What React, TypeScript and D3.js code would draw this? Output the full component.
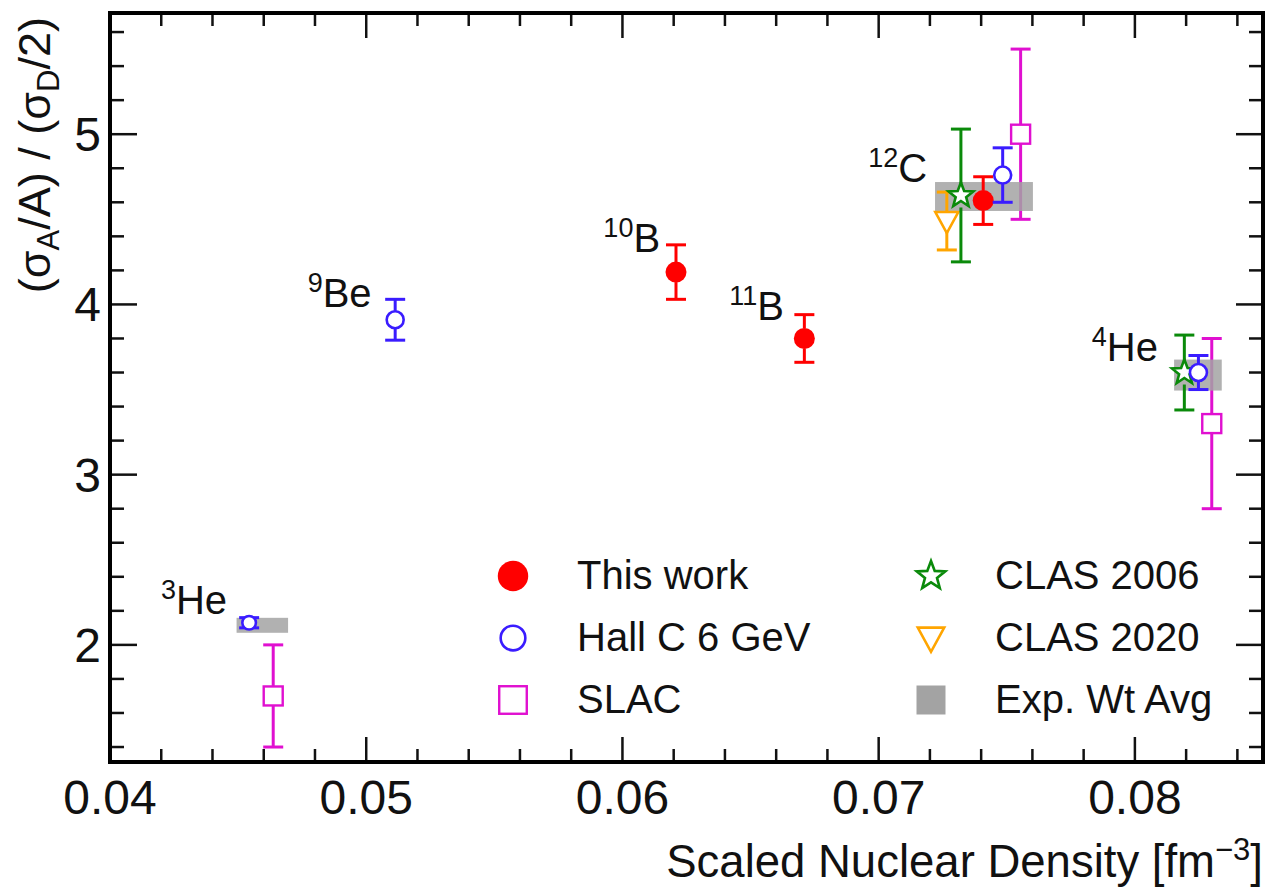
import React from 'react';
import * as d3 from 'd3';

const W = 1277;
const H = 887;
const frame = { left: 110, right: 1263, top: 13, bottom: 762 };
const FONT = '"Liberation Sans", Arial, Helvetica, sans-serif';

// data: density, ratio, error
const thisWork = [
  { x: 0.06209, y: 4.19, e: 0.16 },
  { x: 0.0671, y: 3.8, e: 0.14 },
  { x: 0.07408, y: 4.61, e: 0.14 },
];
const hallC = [
  { x: 0.04543, y: 2.13, e: 0.03 },
  { x: 0.05113, y: 3.91, e: 0.12 },
  { x: 0.07484, y: 4.76, e: 0.16 },
  { x: 0.08248, y: 3.6, e: 0.1 },
];
const slac = [
  { x: 0.04637, y: 1.7, e: 0.3 },
  { x: 0.07554, y: 5.0, e: 0.5 },
  { x: 0.083, y: 3.3, e: 0.5 },
];
const clas2006 = [
  { x: 0.07321, y: 4.64, e: 0.39 },
  { x: 0.08193, y: 3.6, e: 0.22 },
];
const clas2020 = [{ x: 0.07266, y: 4.49, e: 0.17 }];
const expAvg = [
  { x0: 0.04494, x1: 0.04695, y: 2.115, e: 0.044 },
  { x0: 0.0722, x1: 0.07602, y: 4.634, e: 0.085 },
  { x0: 0.08153, x1: 0.08339, y: 3.585, e: 0.091 },
];
const nuclei = [
  { mass: '3', name: 'He', x: 0.04457, y: 2.18 },
  { mass: '9', name: 'Be', x: 0.05021, y: 3.984 },
  { mass: '10', name: 'B', x: 0.06147, y: 4.308 },
  { mass: '11', name: 'B', x: 0.0663, y: 3.906 },
  { mass: '12', name: 'C', x: 0.07189, y: 4.72 },
  { mass: '4', name: 'He', x: 0.0809, y: 3.67 },
];
const xMajor = [0.04, 0.05, 0.06, 0.07, 0.08];
const yMajor = [2, 3, 4, 5];
const legendLeft = ['This work', 'Hall C 6 GeV', 'SLAC'];
const legendRight = ['CLAS 2006', 'CLAS 2020', 'Exp. Wt Avg'];

const RED = '#ff0000';
const BLUE = '#3a1cff';
const MAGENTA = '#e010d0';
const GREEN = '#0a8a0a';
const ORANGE = '#ffa500';
const GRAY = '#a3a3a3';

const xScale = d3.scaleLinear().domain([0.04, 0.085]).range([frame.left, frame.right]);
const yScale = d3.scaleLinear().domain([1.312, 5.712]).range([frame.bottom, frame.top]);

function starPath(R: number, r: number) {
  const pts: [number, number][] = [];
  for (let i = 0; i < 10; i++) {
    const a = -Math.PI / 2 + (i * Math.PI) / 5;
    const rr = i % 2 === 0 ? R : r;
    pts.push([rr * Math.cos(a), rr * Math.sin(a)]);
  }
  return d3.line()(pts) + 'Z';
}

function marker(kind: string, s: number) {
  // s = scale factor
  if (kind === 'dot') return <circle r={10.5 * s} fill={RED} />;
  if (kind === 'circle')
    return <circle r={8.5 * s} fill="white" stroke={BLUE} strokeWidth={2.6} />;
  if (kind === 'square')
    return <rect x={-9.5 * s} y={-9.5 * s} width={19 * s} height={19 * s} fill="white" stroke={MAGENTA} strokeWidth={2.4} />;
  if (kind === 'star')
    return <path d={starPath(13 * s, 5.5 * s)} fill="white" stroke={GREEN} strokeWidth={2.6} strokeLinejoin="miter" />;
  if (kind === 'tri')
    return <path d={`M${-11.5 * s},${-9 * s}L${11.5 * s},${-9 * s}L0,${12 * s}Z`} fill="white" stroke={ORANGE} strokeWidth={2.6} />;
  return <rect x={-14.5 * s} y={-14.5 * s} width={29 * s} height={29 * s} fill={GRAY} />;
}

const gapOf: Record<string, number> = { dot: 10, circle: 9, square: 9.5, star: 12, tri: 10 };

function Series({ data, color, kind }: { data: { x: number; y: number; e: number }[]; color: string; kind: string }) {
  const g = gapOf[kind];
  return (
    <g>
      {data.map((d, i) => {
        const cx = xScale(d.x);
        const cy = yScale(d.y);
        const top = yScale(d.y + d.e);
        const bot = yScale(d.y - d.e);
        return (
          <g key={i}>
            <g stroke={color} strokeWidth={3}>
              {cy - g > top && <line x1={cx} x2={cx} y1={top} y2={cy - g} />}
              {bot > cy + g && <line x1={cx} x2={cx} y1={cy + g} y2={bot} />}
              <line x1={cx - 10} x2={cx + 10} y1={top} y2={top} />
              <line x1={cx - 10} x2={cx + 10} y1={bot} y2={bot} />
            </g>
            <g transform={`translate(${cx},${cy})`}>{marker(kind, d.e < 0.05 ? 0.8 : 1)}</g>
          </g>
        );
      })}
    </g>
  );
}

export default function App() {
  const xMinor = d3.range(0.04, 0.0851, 0.002);
  const yMinor = d3.range(1.4, 5.71, 0.2);
  const fmtX = d3.format('.2f');

  const legendRows = [576, 638, 700];
  const leftKinds = ['dot', 'circle', 'square'];
  const rightKinds = ['star', 'tri', 'box'];

  return (
    <svg width={W} height={H} style={{ position: 'absolute', left: 0, top: 0, background: 'white' }} fontFamily={FONT}>
      {/* exp avg bands and data */}
      <Series data={slac} color={MAGENTA} kind="square" />
      {expAvg.map((b, i) => (
        <rect
          key={i}
          x={xScale(b.x0)}
          width={xScale(b.x1) - xScale(b.x0)}
          y={yScale(b.y + b.e)}
          height={yScale(b.y - b.e) - yScale(b.y + b.e)}
          fill={GRAY}
          opacity={0.85}
        />
      ))}
      <Series data={clas2020} color={ORANGE} kind="tri" />
      <Series data={clas2006} color={GREEN} kind="star" />
      <Series data={thisWork} color={RED} kind="dot" />
      <Series data={hallC} color={BLUE} kind="circle" />

      {/* nucleus labels */}
      {nuclei.map((n, i) => (
        <text key={i} x={xScale(n.x)} y={yScale(n.y)} textAnchor="end" fontSize={40} fill="#111">
          <tspan fontSize={27} dy={-15}>{n.mass}</tspan>
          <tspan dy={15}>{n.name}</tspan>
        </text>
      ))}

      {/* legend */}
      {legendLeft.map((t, i) => (
        <g key={'l' + i}>
          <g transform={`translate(513,${legendRows[i]})`}>{marker(leftKinds[i], 1.45)}</g>
          <text x={577} y={legendRows[i] + 13} fontSize={40} fill="#111">{t}</text>
        </g>
      ))}
      {legendRight.map((t, i) => (
        <g key={'r' + i}>
          <g transform={`translate(931,${legendRows[i]})`}>{marker(rightKinds[i], rightKinds[i] === 'box' ? 1 : 1.15)}</g>
          <text x={995} y={legendRows[i] + 13} fontSize={40} fill="#111">{t}</text>
        </g>
      ))}

      {/* ticks */}
      <g stroke="#111" strokeWidth={2.5}>
        {xMinor.map((v, i) => {
          const major = xMajor.some((m) => Math.abs(m - v) < 1e-6);
          const len = major ? 25 : 13;
          const x = xScale(v);
          return (
            <g key={'xt' + i}>
              <line x1={x} x2={x} y1={frame.bottom} y2={frame.bottom - len} />
              <line x1={x} x2={x} y1={frame.top} y2={frame.top + len} />
            </g>
          );
        })}
        {yMinor.map((v, i) => {
          const major = yMajor.some((m) => Math.abs(m - v) < 1e-6);
          const len = major ? 27 : 14;
          const y = yScale(v);
          return (
            <g key={'yt' + i}>
              <line x1={frame.left} x2={frame.left + len} y1={y} y2={y} />
              <line x1={frame.right} x2={frame.right - len} y1={y} y2={y} />
            </g>
          );
        })}
      </g>
      <rect
        x={frame.left}
        y={frame.top}
        width={frame.right - frame.left}
        height={frame.bottom - frame.top}
        fill="none"
        stroke="#000"
        strokeWidth={4}
      />

      {/* tick labels */}
      {xMajor.map((v) => (
        <text key={'xl' + v} x={xScale(v)} y={814} textAnchor="middle" fontSize={48} fill="#111">
          {fmtX(v)}
        </text>
      ))}
      {yMajor.map((v) => (
        <text key={'yl' + v} x={101} y={yScale(v) + 17} textAnchor="end" fontSize={48} fill="#111">
          {v}
        </text>
      ))}

      {/* axis titles */}
      <text x={frame.right} y={877} textAnchor="end" fontSize={45.5} fill="#111">
        Scaled Nuclear Density [fm<tspan fontSize={31} dy={-17}>−3</tspan>
        <tspan dy={17}>]</tspan>
      </text>
      <text transform="translate(50,17) rotate(-90)" textAnchor="end" fontSize={45} fill="#111">
        (σ<tspan fontSize={31} dy={9}>A</tspan>
        <tspan dy={-9}>/A) / (σ</tspan>
        <tspan fontSize={31} dy={9}>D</tspan>
        <tspan dy={-9}>/2)</tspan>
      </text>
    </svg>
  );
}
